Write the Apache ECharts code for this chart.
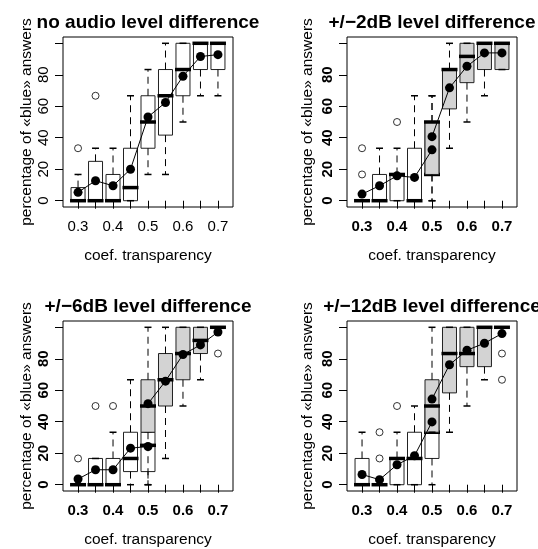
<!DOCTYPE html>
<html><head><meta charset="utf-8">
<script src="https://cdn.jsdelivr.net/npm/echarts@6/dist/echarts.min.js"></script>
<style>html,body{margin:0;padding:0;background:#fff}#c{width:538px;height:549px}</style>
</head><body><div id="c"></div>
<script>
// ---------- data ----------
const xTickLabels = ['0.3','0.35','0.4','0.45','0.5','0.55','0.6','0.65','0.7'];
const xTickPositions = [1,2,3,4,5,6,7,8,9];
const xLabelPositions = [1,3,5,7,9];
const yTicks = [0,20,40,60,80,100];
const yTickLabels = [0,20,40,60,80];
const panelTitles = ['no audio level difference','+/\u22122dB level difference','+/\u22126dB level difference','+/\u221212dB level difference'];
const xName = 'coef. transparency';
const yName = 'percentage of \u00abblue\u00bb answers';

// boxes: [position, lower whisker, Q1, median, Q3, upper whisker]
const p1White = [
  [1,0,0,0,8.33,16.67],[2,0,0,0,25,33.33],[3,0,0,0,16.67,33.33],[4,0,0,8.33,33.33,66.67],
  [5,16.67,33.33,50,66.67,83.33],[6,16.67,41.67,66.67,83.33,100],[7,50,66.67,83.33,100,100],
  [8,66.67,83.33,100,100,100],[9,66.67,83.33,100,100,100]
];
const p1Gray = [];
const p1WhiteMeans = [[1,5.3],[2,12.7],[3,9.5],[4,20],[5,53.2],[6,62.4],[7,79.1],[8,91.6],[9,92.8]];
const p1GrayMeans = [];
const p1Outliers = [[1,33.33],[2,66.67]];

const p2White = [
  [1,0,0,0,0,0],[2,0,0,0,16.67,33.33],[3,0,0,16.67,16.67,33.33],[4,0,0,0,33.33,66.67],[5,0,16.67,16.67,50,66.67]
];
const p2Gray = [
  [5,0,16.67,50,50,66.67],[6,33.33,58.33,83.33,83.33,100],[7,50,75,91.67,100,100],
  [8,66.67,83.33,100,100,100],[9,83.33,83.33,100,100,100]
];
const p2WhiteMeans = [[1,4.2],[2,9.5],[3,15.8],[4,14.8],[5,32.3]];
const p2GrayMeans = [[5,40.7],[6,71.7],[7,85.4],[8,93.9],[9,93.9]];
const p2Outliers = [[1,16.67],[1,33.33],[3,50]];

const p3White = [
  [1,0,0,0,0,0],[2,0,0,0,16.67,16.67],[3,0,0,0,16.67,33.33],[4,0,8.33,16.67,33.33,66.67],[5,0,8.33,25,33.33,33.33]
];
const p3Gray = [
  [5,0,33.33,50,66.67,100],[6,16.67,50,66.67,83.33,100],[7,50,66.67,83.33,100,100],
  [8,66.67,83.33,91.67,100,100],[9,100,100,100,100,100]
];
const p3WhiteMeans = [[1,3.6],[2,9.5],[3,9.5],[4,23.2],[5,24.3]];
const p3GrayMeans = [[5,51.5],[6,65.8],[7,82.7],[8,88.8],[9,97]];
const p3Outliers = [[1,16.67],[2,50],[3,50],[9,83.33]];

const p4White = [
  [1,0,0,0,16.67,33.33],[2,0,0,0,0,0],[3,0,0,16.67,16.67,33.33],[4,0,0,16.67,33.33,50],[5,0,16.67,33.33,50,50]
];
const p4Gray = [
  [5,33.33,33.33,50,66.67,100],[6,33.33,58.33,83.33,100,100],[7,50,75,83.33,100,100],
  [8,66.67,75,100,100,100],[9,100,100,100,100,100]
];
const p4WhiteMeans = [[1,6.5],[2,3.2],[3,12.7],[4,18.4],[5,39.9]];
const p4GrayMeans = [[5,54.4],[6,76.2],[7,85.4],[8,89.9],[9,96]];
const p4Outliers = [[2,16.67],[2,33.33],[3,50],[9,83.33],[9,66.67]];

// ---------- layout ----------
const panels = [
  {white:p1White, gray:p1Gray, wm:p1WhiteMeans, gm:p1GrayMeans, out:p1Outliers, left:63, top:37, bold:false, yGap:26},
  {white:p2White, gray:p2Gray, wm:p2WhiteMeans, gm:p2GrayMeans, out:p2Outliers, left:347, top:37, bold:true, yGap:31},
  {white:p3White, gray:p3Gray, wm:p3WhiteMeans, gm:p3GrayMeans, out:p3Outliers, left:63, top:321, bold:true, yGap:28},
  {white:p4White, gray:p4Gray, wm:p4WhiteMeans, gm:p4GrayMeans, out:p4Outliers, left:347, top:321, bold:true, yGap:31}
];
const FONT = 'Liberation Sans, Arial, Helvetica, sans-serif';

function boxRenderer(fill) {
  return function (params, api) {
    const x = api.value(0);
    const lo = api.coord([x, api.value(1)]);
    const q1 = api.coord([x, api.value(2)]);
    const md = api.coord([x, api.value(3)]);
    const q3 = api.coord([x, api.value(4)]);
    const hi = api.coord([x, api.value(5)]);
    const w = api.size([0.8, 0])[0];
    const cx = lo[0], half = w / 2, sh = w / 4;
    const dash = {stroke:'#000', lineWidth:1, lineDash:[7,5], fill:null};
    const solid = {stroke:'#000', lineWidth:1.5, fill:null};
    return {type:'group', children:[
      {type:'rect', shape:{x:cx-half, y:q3[1], width:w, height:Math.max(q1[1]-q3[1],0)}, style:{fill:fill, stroke:'#222', lineWidth:1}},
      {type:'line', shape:{x1:cx-half-1, y1:md[1], x2:cx+half+1, y2:md[1]}, style:{stroke:'#000', lineWidth:3.5}},
      {type:'line', shape:{x1:cx, y1:q3[1], x2:cx, y2:hi[1]}, style:dash},
      {type:'line', shape:{x1:cx, y1:q1[1], x2:cx, y2:lo[1]}, style:dash},
      {type:'line', shape:{x1:cx-sh, y1:hi[1], x2:cx+sh, y2:hi[1]}, style:solid},
      {type:'line', shape:{x1:cx-sh, y1:lo[1], x2:cx+sh, y2:lo[1]}, style:solid}
    ]};
  };
}

const option = {animation:false, textStyle:{fontFamily:FONT}, title:[], grid:[], xAxis:[], yAxis:[], series:[]};
panels.forEach((p, i) => {
  option.title.push({text:panelTitles[i], left:p.left+80, top:p.top-29, textAlign:'center',
    textStyle:{fontFamily:FONT, fontSize:19, fontWeight:'bold', color:'#000'}});
  option.grid.push({left:p.left, top:p.top, width:170, height:170, show:true, borderColor:'#000', borderWidth:1, backgroundColor:'transparent'});
  option.xAxis.push({type:'value', gridIndex:i, min:0.14, max:9.86, splitLine:{show:false}, axisLine:{show:false},
    axisTick:{show:true, length:8, customValues:xTickPositions, lineStyle:{color:'#000'}},
    axisLabel:{customValues:xLabelPositions, formatter:v => xTickLabels[Math.round(v)-1], fontSize:15, color:'#000',
      fontWeight:p.bold?'bold':'normal', margin:12, fontFamily:FONT},
    name:xName, nameLocation:'middle', nameGap:41, nameTextStyle:{fontSize:15.5, color:'#000', fontFamily:FONT}});
  option.yAxis.push({type:'value', gridIndex:i, min:-4, max:104, splitLine:{show:false}, axisLine:{show:false},
    axisTick:{show:true, length:8, customValues:yTicks, lineStyle:{color:'#000'}},
    axisLabel:{customValues:yTickLabels, rotate:90, fontSize:15, color:'#000', fontWeight:p.bold?'bold':'normal', margin:12, fontFamily:FONT},
    name:yName, nameLocation:'middle', nameGap:p.yGap, nameRotate:90, nameTextStyle:{fontSize:15.5, color:'#000', fontFamily:FONT}});
  option.series.push({type:'custom', xAxisIndex:i, yAxisIndex:i, renderItem:boxRenderer('#ffffff'), data:p.white, z:2, clip:false});
  option.series.push({type:'custom', xAxisIndex:i, yAxisIndex:i, renderItem:boxRenderer('#d3d3d3'), data:p.gray, z:3, clip:false});
  option.series.push({type:'scatter', xAxisIndex:i, yAxisIndex:i, data:p.out, symbol:'circle', symbolSize:7,
    itemStyle:{color:'rgba(255,255,255,0)', borderColor:'#000', borderWidth:1}, z:4});
  [p.wm, p.gm].forEach(m => {
    if (!m.length) return;
    option.series.push({type:'line', xAxisIndex:i, yAxisIndex:i, data:m, symbol:'circle', symbolSize:9, showSymbol:true,
      itemStyle:{color:'#000', borderWidth:0}, lineStyle:{color:'#000', width:1}, z:6});
  });
});
const chart = echarts.init(document.getElementById('c'), null, {renderer:'canvas'});
chart.setOption(option);
</script></body></html>
